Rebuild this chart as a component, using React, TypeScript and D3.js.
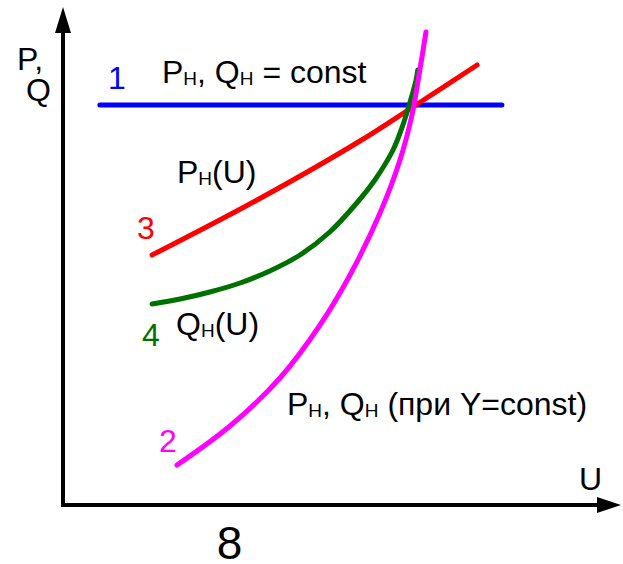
import React from "react";
import * as d3 from "d3";

// Abstract units: U on x (0..100), P/Q on y (0..100)
const curve1U = [6.7, 79.8];
const curve1PQ = [80, 80];

const curve3U = [16.2, 35.3, 54.0, 63.6, 75.3];
const curve3PQ = [50, 61, 72.8, 79.6, 88];

const curve4U = [16.2, 21.3, 26.7, 32.2, 37.6, 43.1, 48.5, 53.1, 56.7, 60.0, 61.8, 63.1, 64.2, 64.5];
const curve4PQ = [40.2, 41.2, 42.6, 44.4, 46.8, 50.0, 54.6, 60.0, 65.0, 71.0, 76.0, 80.6, 85.0, 87.0];

const curve2U = [20.73, 30.36, 39.45, 46.73, 52.18, 57.64, 61.27, 63.45, 64.73, 66.0];
const curve2PQ = [8, 15.8, 25.4, 36, 46, 58.4, 69, 78, 86, 94.6];

const FONT = "'Liberation Sans', Arial, sans-serif";

type Pt = [number, number];
const zip = (xs: number[], ys: number[]): Pt[] => xs.map((x, i) => [x, ys[i]]);

export default function App() {
  const W = 623;
  const H = 564;
  const x = d3.scaleLinear().domain([0, 100]).range([63, 613]);
  const y = d3.scaleLinear().domain([0, 100]).range([505, 5]);

  const line = d3
    .line<Pt>()
    .x((d) => x(d[0]))
    .y((d) => y(d[1]))
    .curve(d3.curveCatmullRom.alpha(0.5));

  const x0 = x(0);
  const y0 = y(0);

  const series = [
    { d: zip(curve1U, curve1PQ), color: "#0000ff" },
    { d: zip(curve3U, curve3PQ), color: "#ff0000" },
    { d: zip(curve4U, curve4PQ), color: "#007000" },
    { d: zip(curve2U, curve2PQ), color: "#ff00ff" },
  ];

  const FS = 32;
  const SFS = 19;
  const sub = (main: string, s: string, rest: string) => (
    <>
      {main}
      <tspan fontSize={SFS} dy={2}>
        {s}
      </tspan>
      <tspan dy={-2}>{rest}</tspan>
    </>
  );

  return (
    <svg
      width={W}
      height={H}
      style={{ position: "absolute", left: 0, top: 0, background: "#fff" }}
      fontFamily={FONT}
    >
      <rect width={W} height={H} fill="#fff" />
      {/* axes */}
      <path
        d={`M${x0},33 L${x0},${y0} L597,${y0}`}
        fill="none"
        stroke="#000"
        strokeWidth={4}
        strokeLinejoin="miter"
      />
      <path d={`M${x0},7 L${x0 - 8},33 L${x0 + 8},33 Z`} fill="#000" />
      <path d={`M621,${y0} L597,${y0 - 8} L597,${y0 + 8} Z`} fill="#000" />

      {series.map((s, i) => (
        <path
          key={i}
          d={line(s.d) || ""}
          fill="none"
          stroke={s.color}
          strokeWidth={5}
          strokeLinecap="round"
        />
      ))}

      {/* axis labels */}
      <text x={17} y={70} fontSize={FS} fill="#000">P,</text>
      <text x={26} y={101} fontSize={FS} fill="#000">Q</text>
      <text x={579} y={490} fontSize={FS} fill="#000">U</text>
      <text x={229.5} y={559} fontSize={46} fill="#000" textAnchor="middle">8</text>

      {/* curve numbers */}
      <text x={108} y={89} fontSize={FS} fill="#0000ff">1</text>
      <text x={137} y={239} fontSize={FS} fill="#ff0000">3</text>
      <text x={142} y={346} fontSize={FS} fill="#007000">4</text>
      <text x={159} y={452} fontSize={FS} fill="#ff00ff">2</text>

      {/* annotations */}
      <text x={162} y={83} fontSize={FS} fill="#000">
        {sub("P", "H", ", Q")}
        <tspan fontSize={SFS} dy={2}>H</tspan>
        <tspan dy={-2}> = const</tspan>
      </text>
      <text x={177} y={183} fontSize={FS} fill="#000">
        {sub("P", "H", "(U)")}
      </text>
      <text x={176} y={335} fontSize={FS} fill="#000">
        {sub("Q", "H", "(U)")}
      </text>
      <text x={287} y={415} fontSize={FS} fill="#000">
        {sub("P", "H", ", Q")}
        <tspan fontSize={SFS} dy={2}>H</tspan>
        <tspan dy={-2}> (при Y=const)</tspan>
      </text>
    </svg>
  );
}
